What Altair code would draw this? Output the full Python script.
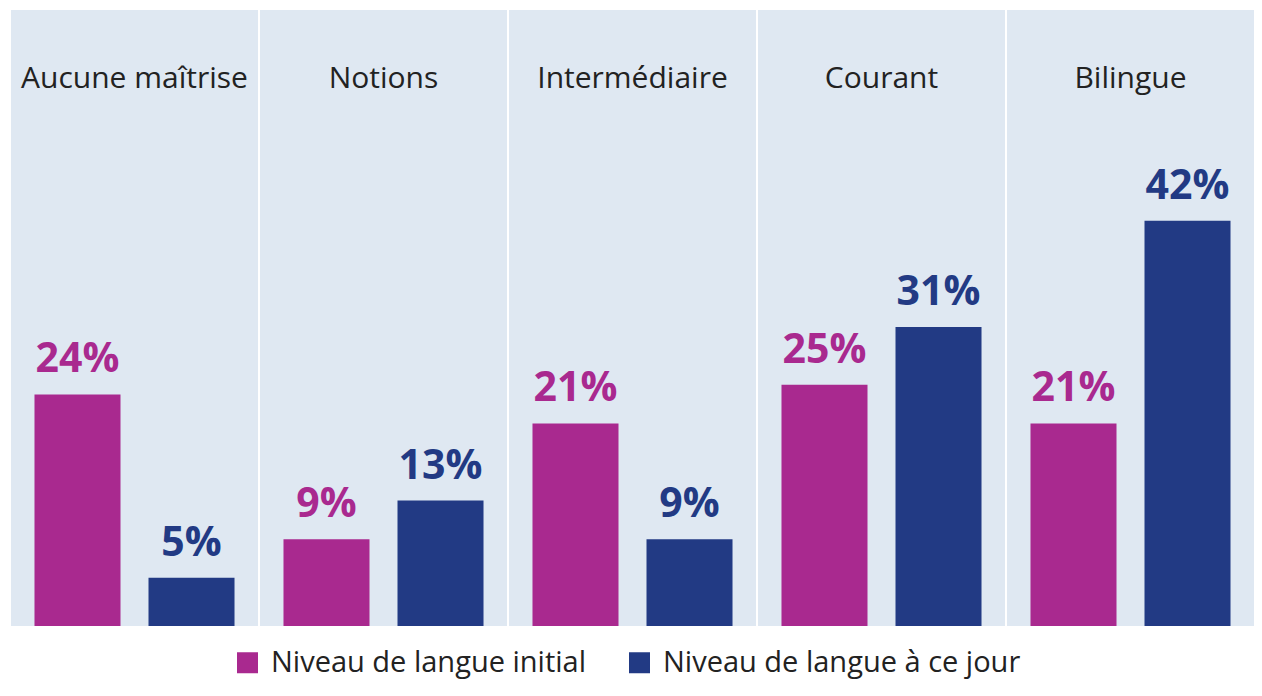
import altair as alt
import pandas as pd

niveaux = ["Aucune maîtrise", "Notions", "Intermédiaire", "Courant", "Bilingue"]
series = ["Niveau de langue initial", "Niveau de langue à ce jour"]
initial = [24, 9, 21, 25, 21]
actuel = [5, 13, 9, 31, 42]
colors = ["#a9298f", "#223a84"]

rows = []
for i, n in enumerate(niveaux):
    rows.append({"niveau": n, "serie": series[0], "valeur": initial[i]})
    rows.append({"niveau": n, "serie": series[1], "valeur": actuel[i]})
df = pd.DataFrame(rows)
df["label"] = df["valeur"].astype(str) + "%"

W, H = 247, 616

legend = alt.Legend(
    title=None, orient="none", legendX=222, legendY=638, direction="horizontal",
    symbolType="square", symbolSize=441, symbolStrokeWidth=0,
    labelFont="Open Sans", labelFontSize=29, labelColor="#222222",
    columnPadding=38, labelOffset=9, labelLimit=600,
)
color = alt.Color("serie:N", sort=series, scale=alt.Scale(domain=series, range=colors), legend=legend)

x = alt.X("serie:N", sort=series, scale=alt.Scale(paddingInner=0.2456, paddingOuter=0.206), axis=None)
y = alt.Y("valeur:Q", scale=alt.Scale(domain=[0, 63.85]), axis=None)


def panel(n):
    base = alt.Chart(df).transform_filter(alt.datum.niveau == n)
    bars = base.mark_bar().encode(x=x, y=y, color=color)
    labels = base.mark_text(
        font="Open Sans", fontWeight="bold", fontSize=41, dy=-22, baseline="alphabetic"
    ).encode(x=x, y=y, text="label:N", color=color)
    title = alt.Chart(pd.DataFrame({"niveau": [n]})).mark_text(
        font="Open Sans", fontSize=30, color="#222222", baseline="alphabetic"
    ).encode(text="niveau:N", x=alt.value(W / 2), y=alt.value(78))
    return alt.layer(bars, labels, title).properties(width=W, height=H)


chart = alt.hconcat(*[panel(n) for n in niveaux], spacing=2).properties(
    padding={"left": 3, "top": 2, "right": 0, "bottom": 8}
).configure_view(fill="#dfe8f2", stroke=None)

chart.save("out.html", embed_options={"renderer": "svg", "actions": False})
